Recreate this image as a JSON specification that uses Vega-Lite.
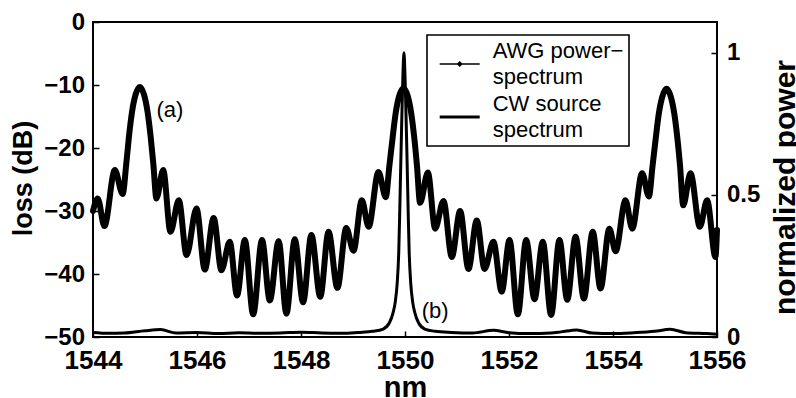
{
  "$schema": "https://vega.github.io/schema/vega-lite/v6.json",
  "width": 624,
  "height": 315,
  "autosize": {"type": "none"},
  "padding": {"left": 93, "top": 22, "right": 79, "bottom": 61},
  "background": "white",
  "config": {
    "font": "Liberation Sans",
    "view": {"stroke": "black", "strokeWidth": 2},
    "axis": {
      "grid": false,
      "domain": false,
      "labelFont": "Liberation Sans",
      "labelFontWeight": "bold",
      "labelColor": "black",
      "labelFlush": false,
      "labelOverlap": false,
      "tickColor": "black",
      "tickWidth": 1.5,
      "tickSize": -6,
      "titleFont": "Liberation Sans",
      "titleFontWeight": "bold",
      "titleColor": "black"
    }
  },
  "datasets": {
    "awg": [
      {"nm": 1544.00, "loss": -30.0}, {"nm": 1544.09, "loss": -28.0}, {"nm": 1544.22, "loss": -32.4},
      {"nm": 1544.42, "loss": -23.5}, {"nm": 1544.57, "loss": -27.3}, {"nm": 1544.64, "loss": -22.5},
      {"nm": 1544.69, "loss": -18.3}, {"nm": 1544.75, "loss": -14.3}, {"nm": 1544.82, "loss": -11.5},
      {"nm": 1544.90, "loss": -10.3}, {"nm": 1544.98, "loss": -11.5}, {"nm": 1545.05, "loss": -14.3},
      {"nm": 1545.11, "loss": -18.3}, {"nm": 1545.16, "loss": -22.5}, {"nm": 1545.22, "loss": -28.0},
      {"nm": 1545.35, "loss": -23.5}, {"nm": 1545.49, "loss": -33.3}, {"nm": 1545.65, "loss": -28.3},
      {"nm": 1545.80, "loss": -37.0}, {"nm": 1545.99, "loss": -29.6}, {"nm": 1546.15, "loss": -39.3},
      {"nm": 1546.32, "loss": -31.1}, {"nm": 1546.47, "loss": -39.4}, {"nm": 1546.63, "loss": -34.9},
      {"nm": 1546.77, "loss": -43.4}, {"nm": 1546.92, "loss": -34.6}, {"nm": 1547.08, "loss": -46.4},
      {"nm": 1547.25, "loss": -34.6}, {"nm": 1547.40, "loss": -44.2}, {"nm": 1547.57, "loss": -34.8},
      {"nm": 1547.72, "loss": -46.3}, {"nm": 1547.88, "loss": -34.5}, {"nm": 1548.04, "loss": -44.5},
      {"nm": 1548.20, "loss": -33.8}, {"nm": 1548.37, "loss": -43.6}, {"nm": 1548.53, "loss": -33.3},
      {"nm": 1548.70, "loss": -42.2}, {"nm": 1548.87, "loss": -32.7}, {"nm": 1549.01, "loss": -36.3},
      {"nm": 1549.17, "loss": -28.3}, {"nm": 1549.30, "loss": -32.5}, {"nm": 1549.49, "loss": -23.8},
      {"nm": 1549.63, "loss": -27.8}, {"nm": 1549.70, "loss": -22.8}, {"nm": 1549.76, "loss": -18.5},
      {"nm": 1549.82, "loss": -14.5}, {"nm": 1549.89, "loss": -11.7}, {"nm": 1549.97, "loss": -10.5},
      {"nm": 1550.05, "loss": -11.7}, {"nm": 1550.12, "loss": -14.5}, {"nm": 1550.18, "loss": -18.5},
      {"nm": 1550.23, "loss": -22.8}, {"nm": 1550.29, "loss": -28.7}, {"nm": 1550.44, "loss": -23.9},
      {"nm": 1550.58, "loss": -32.8}, {"nm": 1550.74, "loss": -28.4}, {"nm": 1550.90, "loss": -37.3},
      {"nm": 1551.06, "loss": -30.0}, {"nm": 1551.22, "loss": -39.2}, {"nm": 1551.38, "loss": -31.5},
      {"nm": 1551.53, "loss": -39.2}, {"nm": 1551.70, "loss": -34.9}, {"nm": 1551.86, "loss": -42.8},
      {"nm": 1552.01, "loss": -34.6}, {"nm": 1552.17, "loss": -46.4}, {"nm": 1552.33, "loss": -34.6},
      {"nm": 1552.49, "loss": -44.0}, {"nm": 1552.65, "loss": -34.9}, {"nm": 1552.81, "loss": -46.5},
      {"nm": 1552.97, "loss": -34.6}, {"nm": 1553.12, "loss": -44.1}, {"nm": 1553.28, "loss": -34.1},
      {"nm": 1553.44, "loss": -43.9}, {"nm": 1553.61, "loss": -33.3}, {"nm": 1553.76, "loss": -42.3},
      {"nm": 1553.93, "loss": -32.8}, {"nm": 1554.05, "loss": -36.4}, {"nm": 1554.24, "loss": -28.3},
      {"nm": 1554.37, "loss": -32.8}, {"nm": 1554.56, "loss": -24.0}, {"nm": 1554.69, "loss": -27.7},
      {"nm": 1554.76, "loss": -22.9}, {"nm": 1554.82, "loss": -18.6}, {"nm": 1554.88, "loss": -14.6},
      {"nm": 1554.95, "loss": -11.8}, {"nm": 1555.03, "loss": -10.6}, {"nm": 1555.11, "loss": -11.8},
      {"nm": 1555.18, "loss": -14.6}, {"nm": 1555.24, "loss": -18.6}, {"nm": 1555.29, "loss": -22.9},
      {"nm": 1555.35, "loss": -29.1}, {"nm": 1555.49, "loss": -24.0}, {"nm": 1555.67, "loss": -32.5},
      {"nm": 1555.81, "loss": -28.3}, {"nm": 1555.97, "loss": -37.3}, {"nm": 1556.00, "loss": -33.0}
    ],
    "cw": [
      {"nm": 1544.0, "power": 0.016}, {"nm": 1544.3, "power": 0.013}, {"nm": 1544.6, "power": 0.014},
      {"nm": 1545.0, "power": 0.022}, {"nm": 1545.3, "power": 0.026}, {"nm": 1545.6, "power": 0.014},
      {"nm": 1546.0, "power": 0.016}, {"nm": 1546.4, "power": 0.012}, {"nm": 1546.8, "power": 0.015},
      {"nm": 1547.2, "power": 0.013}, {"nm": 1547.6, "power": 0.014}, {"nm": 1548.0, "power": 0.017},
      {"nm": 1548.4, "power": 0.014}, {"nm": 1548.8, "power": 0.013}, {"nm": 1549.1, "power": 0.016},
      {"nm": 1549.38, "power": 0.02}, {"nm": 1549.58, "power": 0.028}, {"nm": 1549.70, "power": 0.05},
      {"nm": 1549.77, "power": 0.085}, {"nm": 1549.81, "power": 0.12}, {"nm": 1549.85, "power": 0.19},
      {"nm": 1549.88, "power": 0.3}, {"nm": 1549.90, "power": 0.45}, {"nm": 1549.92, "power": 0.62},
      {"nm": 1549.94, "power": 0.78}, {"nm": 1549.96, "power": 0.92}, {"nm": 1549.98, "power": 1.0},
      {"nm": 1550.00, "power": 0.92}, {"nm": 1550.02, "power": 0.78}, {"nm": 1550.04, "power": 0.62},
      {"nm": 1550.06, "power": 0.45}, {"nm": 1550.08, "power": 0.3}, {"nm": 1550.11, "power": 0.19},
      {"nm": 1550.15, "power": 0.12}, {"nm": 1550.19, "power": 0.085}, {"nm": 1550.26, "power": 0.05},
      {"nm": 1550.38, "power": 0.028}, {"nm": 1550.58, "power": 0.02}, {"nm": 1550.9, "power": 0.016},
      {"nm": 1551.3, "power": 0.014}, {"nm": 1551.7, "power": 0.024}, {"nm": 1552.0, "power": 0.015},
      {"nm": 1552.4, "power": 0.012}, {"nm": 1552.8, "power": 0.014}, {"nm": 1553.0, "power": 0.018},
      {"nm": 1553.3, "power": 0.025}, {"nm": 1553.6, "power": 0.014}, {"nm": 1554.0, "power": 0.012},
      {"nm": 1554.4, "power": 0.015}, {"nm": 1554.8, "power": 0.02}, {"nm": 1555.1, "power": 0.027},
      {"nm": 1555.4, "power": 0.015}, {"nm": 1555.8, "power": 0.012}, {"nm": 1556.0, "power": 0.01}
    ],
    "notes": [
      {"nm": 1545.22, "loss": -14.0, "tag": "(a)"},
      {"nm": 1550.32, "loss": -45.95, "tag": "(b)"}
    ]
  },
  "layer": [
    {
      "layer": [
        {
          "data": {"name": "awg"},
          "mark": {"type": "line", "interpolate": "monotone", "strokeWidth": 6, "strokeJoin": "round", "strokeCap": "round"},
          "encoding": {
            "x": {
              "field": "nm", "type": "quantitative",
              "scale": {"domain": [1544, 1556], "nice": false, "zero": false},
              "axis": {
                "values": [1544, 1546, 1548, 1550, 1552, 1554, 1556],
                "format": "d",
                "labelFontSize": 26,
                "labelPadding": 16,
                "title": "nm",
                "titleFontSize": 29,
                "titleX": 312,
                "titleY": 59,
                "titleAlign": "center",
                "titleBaseline": "alphabetic"
              }
            },
            "y": {
              "field": "loss", "type": "quantitative",
              "scale": {"domain": [-50, 0], "nice": false, "zero": false},
              "axis": {
                "orient": "left",
                "values": [-50, -40, -30, -20, -10, 0],
                "labelFontSize": 24,
                "labelPadding": 14.5,
                "title": "loss (dB)",
                "titleFontSize": 27,
                "titleAngle": -90,
                "titleX": -61.5,
                "titleY": 156,
                "titleAlign": "center",
                "titleBaseline": "alphabetic"
              }
            },
            "stroke": {
              "datum": "AWG", "type": "nominal",
              "scale": {"domain": ["AWG", "CW"], "range": ["black", "black"]},
              "legend": {
                "title": null,
                "orient": "none",
                "legendX": 334,
                "legendY": 13,
                "fillColor": "white",
                "strokeColor": "black",
                "padding": 5,
                "rowPadding": 5,
                "labelFont": "Liberation Sans",
                "labelFontSize": 22,
                "labelColor": "black",
                "labelLimit": 0,
                "labelOffset": 38.7,
                "symbolSize": 1600,
                "labelExpr": "datum.label == 'AWG' ? ['AWG power\u2212\u00a0', 'spectrum'] : ['CW source', 'spectrum']",
                "encode": {
                  "legend": {"update": {"strokeWidth": {"value": 1.6}}},
                  "symbols": {
                    "update": {
                      "shape": {"signal": "datum.value == 'AWG' ? 'M-0.165,0.65H1.835M0.735,0.65L0.835,0.55L0.935,0.65L0.835,0.75Z' : 'M-0.165,0.65H1.835'"},
                      "strokeWidth": {"signal": "datum.value == 'AWG' ? 1.5 : 3"},
                      "stroke": {"value": "black"},
                      "fill": {"value": "black"},
                      "opacity": {"value": 1}
                    }
                  },
                  "labels": {"update": {"lineHeight": {"value": 26}}}
                }
              }
            }
          }
        },
        {
          "data": {"name": "notes"},
          "mark": {"type": "text", "align": "left", "baseline": "middle", "fontSize": 22, "font": "Liberation Sans", "color": "black"},
          "encoding": {
            "x": {"field": "nm", "type": "quantitative"},
            "y": {"field": "loss", "type": "quantitative"},
            "text": {"field": "tag"}
          }
        }
      ]
    },
    {
      "data": {"name": "cw"},
      "mark": {"type": "line", "interpolate": "monotone", "strokeWidth": 3, "strokeJoin": "round"},
      "encoding": {
        "x": {"field": "nm", "type": "quantitative"},
        "y": {
          "field": "power", "type": "quantitative",
          "scale": {"domain": [0, 1.108], "nice": false, "zero": false},
          "axis": {
            "orient": "right",
            "values": [0, 0.5, 1],
            "format": "~g",
            "labelFontSize": 24,
            "labelPadding": 15.5,
            "title": "normalized power",
            "titleFontSize": 30,
            "titleAngle": -90,
            "titleX": 77,
            "titleY": 165,
            "titleAlign": "center",
            "titleBaseline": "alphabetic"
          }
        },
        "stroke": {"datum": "CW", "type": "nominal"}
      }
    }
  ],
  "resolve": {"scale": {"y": "independent"}}
}
